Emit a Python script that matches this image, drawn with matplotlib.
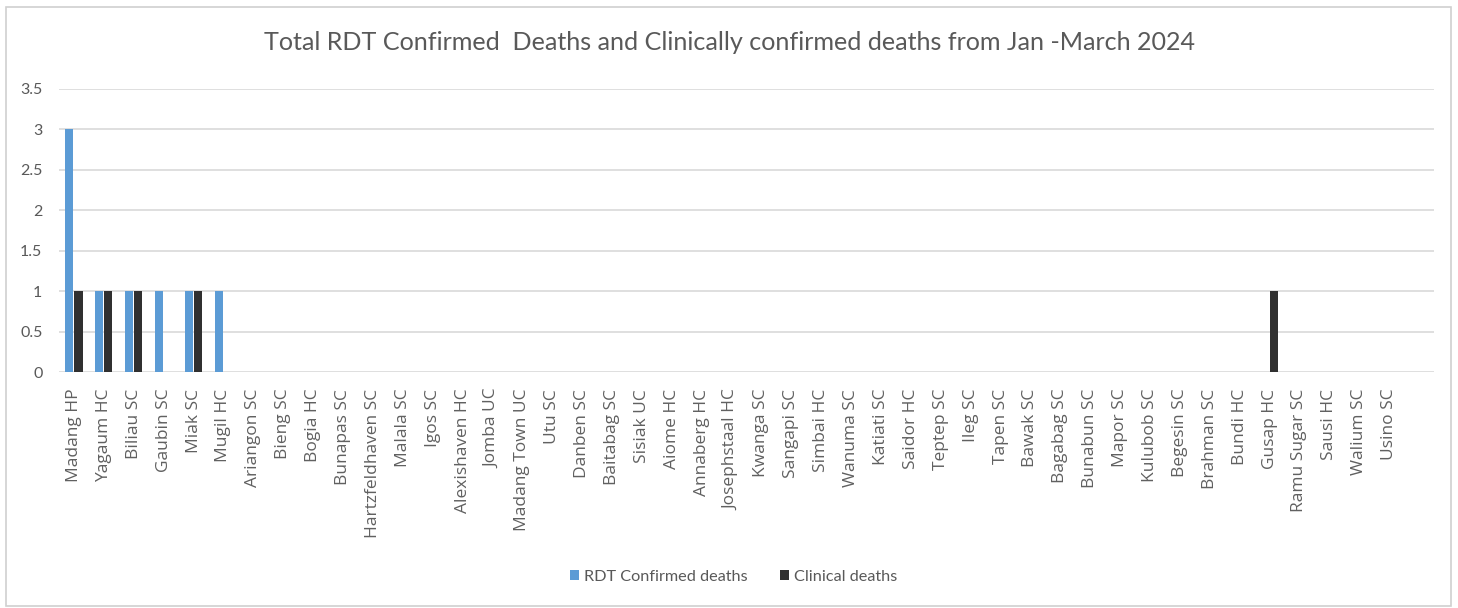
import numpy as np
import matplotlib.pyplot as plt
from matplotlib.patches import Rectangle

plt.rcParams['font.family'] = ['Lato', 'DejaVu Sans']

facilities = ["Madang HP", "Yagaum HC", "Biliau SC", "Gaubin SC", "Miak SC", "Mugil HC",
              "Ariangon SC", "Bieng SC", "Bogia HC", "Bunapas SC", "Hartzfeldhaven SC",
              "Malala SC", "Igos SC", "Alexishaven HC", "Jomba UC", "Madang Town UC",
              "Utu SC", "Danben SC", "Baitabag SC", "Sisiak UC", "Aiome HC", "Annaberg HC",
              "Josephstaal HC", "Kwanga SC", "Sangapi SC", "Simbai HC", "Wanuma SC",
              "Katiati SC", "Saidor HC", "Teptep SC", "Ileg SC", "Tapen SC", "Bawak SC",
              "Bagabag SC", "Bunabun SC", "Mapor SC", "Kulubob SC", "Begesin SC",
              "Brahman SC", "Bundi HC", "Gusap HC", "Ramu Sugar SC", "Sausi HC",
              "Walium SC", "Usino SC"]

rdt_deaths = [3, 1, 1, 1, 1, 1] + [0] * 39
clinical_deaths = [1, 1, 1, 0, 1, 0] + [0] * 34 + [1, 0, 0, 0, 0]

x = np.arange(len(facilities))
w = 0.27

fig = plt.figure(figsize=(14.58, 6.08), dpi=100)
ax = fig.add_axes([0.0405, 0.388, 0.943, 0.466])

ax.bar(x - 0.16, rdt_deaths, w, color='#5b9bd5', label='RDT Confirmed deaths', zorder=3)
ax.bar(x + 0.15, clinical_deaths, w, color='#303030', label='Clinical deaths', zorder=3)

ax.set_ylim(0, 3.5)
ax.set_yticks(np.arange(0, 3.51, 0.5))
ax.set_yticklabels(['0', '0.5', '1', '1.5', '2', '2.5', '3', '3.5'])
ax.set_xlim(-0.5, len(facilities) + 0.5)
ax.set_xticks(x)
ax.set_xticklabels(facilities, rotation=90, fontsize=12.5, color='#606060',
                   family=['Open Sans', 'DejaVu Sans'])
ax.tick_params(axis='y', labelsize=11.5, labelcolor='#595959', length=0, pad=12)
ax.tick_params(axis='x', length=0, pad=12)
ax.grid(axis='y', color='#d9d9d9', linewidth=1.2, zorder=0)
for s in ax.spines.values():
    s.set_visible(False)

fig.text(0.5, 0.930, 'Total RDT Confirmed  Deaths and Clinically confirmed deaths from Jan -March 2024',
         ha='center', va='center', fontsize=18.1, color='#595959')

ax.legend(loc='center', bbox_to_anchor=(0.503, 0.051), bbox_transform=fig.transFigure,
          ncol=2, frameon=False, fontsize=11.7, labelcolor='#595959',
          handlelength=0.55, handleheight=0.55, handletextpad=0.3, columnspacing=2.0)

fig.patches.append(Rectangle((0.004, 0.004), 0.991, 0.985, transform=fig.transFigure,
                             fill=False, edgecolor='#d0d0d0', linewidth=1.2))

fig.savefig('out.png', dpi=100)
